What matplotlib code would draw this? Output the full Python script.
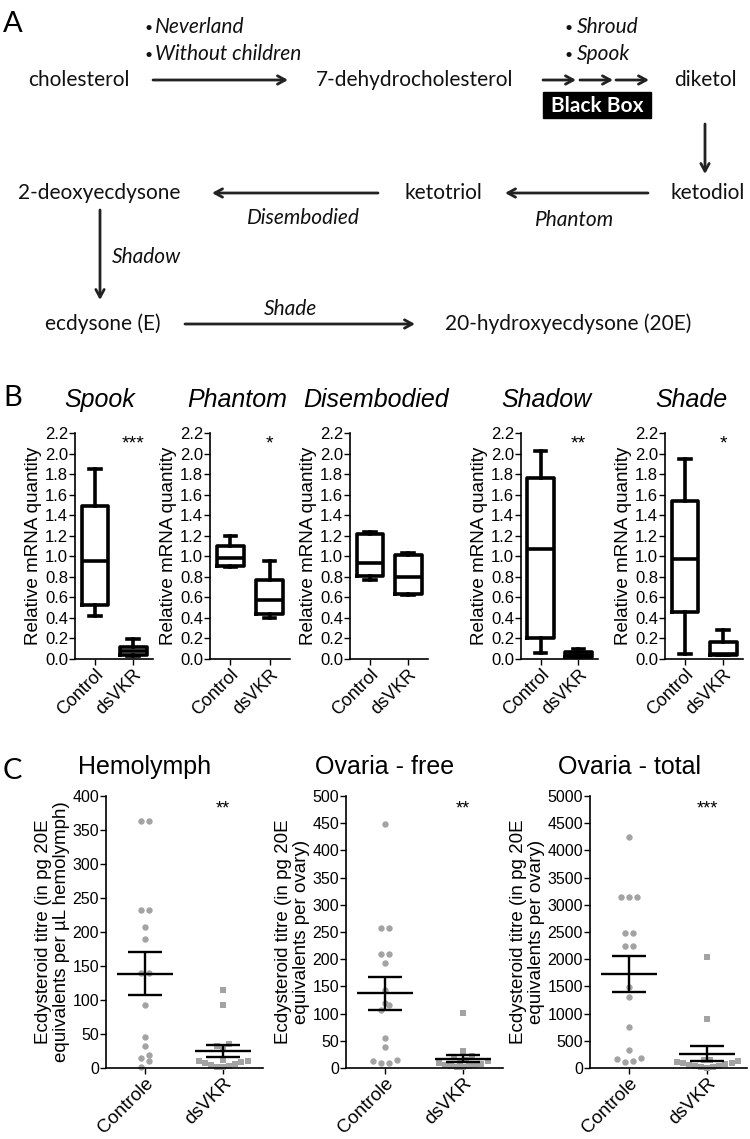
import matplotlib.pyplot as plt
import numpy as np
from matplotlib.patches import Rectangle

W, H = 750, 1139

# ---- panel A: pathway
metabolites = ['cholesterol', '7-dehydrocholesterol', 'diketol', 'ketodiol',
               'ketotriol', '2-deoxyecdysone', 'ecdysone (E)', '20-hydroxyecdysone (20E)']
enzymes_first = ['Neverland', 'Without children']
enzymes_box = ['Shroud', 'Spook']
enzymes_rest = ['Phantom', 'Disembodied', 'Shadow', 'Shade']

# ---- panel B: qPCR boxes (whislo, q1, med, q3, whishi)
genes = ['Spook', 'Phantom', 'Disembodied', 'Shadow', 'Shade']
groups_b = ['Control', 'dsVKR']
control_boxes = [
    [0.42, 0.53, 0.95, 1.49, 1.85],
    [0.90, 0.91, 0.98, 1.10, 1.20],
    [0.77, 0.81, 0.93, 1.22, 1.24],
    [0.06, 0.20, 1.07, 1.76, 2.02],
    [0.05, 0.46, 0.97, 1.54, 1.95],
]
dsvkr_boxes = [
    [0.03, 0.04, 0.08, 0.12, 0.19],
    [0.40, 0.44, 0.57, 0.77, 0.95],
    [0.62, 0.63, 0.80, 1.01, 1.03],
    [0.02, 0.02, 0.04, 0.065, 0.10],
    [0.04, 0.04, 0.05, 0.17, 0.28],
]
stars_b = ['***', '*', '', '**', '*']

# ---- panel C: ecdysteroid titres
groups_c = ['Controle', 'dsVKR']
tissues = ['Hemolymph', 'Ovaria - free', 'Ovaria - total']
hemo_ctrl = [363, 363, 233, 233, 208, 189, 139, 139, 93, 45, 32, 19, 15, 10, 2]
hemo_ds = [114, 93, 35, 33, 28, 12, 11, 10, 9, 8, 6, 4, 3, 2, 2]
free_ctrl = [448, 257, 257, 210, 210, 193, 144, 119, 116, 106, 56, 38, 14, 12, 9, 9]
free_ds = [101, 32, 22, 20, 15, 13, 12, 10, 8, 6, 5, 4, 3, 2, 1]
total_ctrl = [4248, 3148, 3148, 3148, 2488, 2488, 2243, 2243, 1498, 1314, 752, 324, 177, 171, 134, 110]
total_ds = [2040, 900, 150, 140, 120, 110, 100, 90, 80, 60, 40, 30, 20, 10, 5]
ymax_c = [400, 500, 5000]
ystep_c = [50, 50, 500]
stars_c = ['**', '**', '***']

fig = plt.figure(figsize=(W / 100, H / 100), dpi=100)

def px_axes(left, top, right, bottom):
    return fig.add_axes([left / W, 1 - bottom / H, (right - left) / W, (bottom - top) / H])

def ftext(x, y, s, **kw):
    fig.text(x / W, 1 - y / H, s, **kw)

# overlay for the diagram
ax0 = fig.add_axes([0, 0, 1, 1])
ax0.set_xlim(0, W)
ax0.set_ylim(H, 0)
ax0.axis('off')

fa = dict(family='Lato', fontsize=15, va='center', color='#111111')
fi = dict(family='Lato', fontsize=15, va='center', style='italic', color='#111111')
fb = dict(family='Lato', fontsize=10, va='center', color='#111111')
arrow = dict(arrowstyle='->,head_length=0.55,head_width=0.3', lw=2.0, color='#222222',
             shrinkA=0, shrinkB=0)

def arr(x0, y0, x1, y1):
    ax0.annotate('', xy=(x1, y1), xytext=(x0, y0), arrowprops=arrow)

ftext(3, 24, 'A', family='Lato', fontsize=21, va='center')
ftext(3, 398, 'B', family='Lato', fontsize=21, va='center')
ftext(3, 771, 'C', family='Lato', fontsize=21, va='center')

ax0.text(28, 80, metabolites[0], **fa)
ax0.text(316, 80, metabolites[1], **fa)
ax0.text(674, 80, metabolites[2], **fa)
ax0.text(745, 193, metabolites[3], ha='right', **fa)
ax0.text(405, 193, metabolites[4], **fa)
ax0.text(18, 193, metabolites[5], **fa)
ax0.text(45, 324, metabolites[6], **fa)
ax0.text(445, 324, metabolites[7], **fa)

for i, name in enumerate(enzymes_first):
    ax0.text(144, 28 + 27 * i, '\u2022', **fb)
    ax0.text(155, 27 + 27 * i, name, **fi)
for i, name in enumerate(enzymes_box):
    ax0.text(565, 28 + 27 * i, '\u2022', **fb)
    ax0.text(577, 27 + 27 * i, name, **fi)

arr(153, 80, 288, 80)
for xs in [543, 580, 616]:
    arr(xs, 80, xs + 33, 80)
ax0.add_patch(Rectangle((543, 92), 108, 26, color='black'))
ax0.text(597, 105.5, 'Black Box', ha='center', va='center', family='Lato',
         fontsize=15, weight='bold', color='white')
arr(705, 124, 705, 174)
arr(648, 193, 505, 193)
ax0.text(575, 220, enzymes_rest[0], ha='center', **fi)
arr(378, 193, 212, 193)
ax0.text(303, 218, enzymes_rest[1], ha='center', **fi)
arr(100, 210, 100, 300)
ax0.text(112, 257, enzymes_rest[2], **fi)
arr(185, 324, 415, 324)
ax0.text(290, 309, enzymes_rest[3], ha='center', **fi)

# ---- panel B
sans = 'Liberation Sans'
b_edges = [(75, 153), (210, 290), (350, 428), (521, 598), (665, 743)]
b_title_x = [100, 237, 376, 546, 691]

def style_axes(ax, xsize, ysize, lw=1.2):
    for s in ['top', 'right']:
        ax.spines[s].set_visible(False)
    for s in ['left', 'bottom']:
        ax.spines[s].set_linewidth(lw)
    ax.tick_params(width=1.0, length=4, pad=1)
    ax.tick_params(axis='x', labelsize=xsize)
    ax.tick_params(axis='y', labelsize=ysize)
    for lab in ax.get_xticklabels() + ax.get_yticklabels():
        lab.set_family(sans)

for i, gene in enumerate(genes):
    left, right = b_edges[i]
    ax = px_axes(left, 433, right, 659)
    stats = []
    for box in [control_boxes[i], dsvkr_boxes[i]]:
        stats.append(dict(whislo=box[0], q1=box[1], med=box[2], q3=box[3],
                          whishi=box[4], fliers=[]))
    lp = dict(lw=2.6, color='black')
    ax.bxp(stats, positions=[1, 2], widths=0.7, capwidths=0.3, showfliers=False,
           boxprops=lp, whiskerprops=lp, capprops=lp, medianprops=lp)
    ax.set_xlim(0.48, 2.52)
    ax.set_ylim(0, 2.2)
    ax.set_yticks(np.arange(0, 2.21, 0.2))
    ax.set_yticklabels(['%.1f' % v for v in np.arange(0, 2.21, 0.2)])
    ax.set_xticks([1, 2])
    ax.set_xticklabels(groups_b, rotation=45, ha='right', rotation_mode='anchor')
    ax.set_ylabel('Relative mRNA quantity', family=sans, fontsize=13.6, labelpad=2)
    style_axes(ax, 13, 12)
    if stars_b[i]:
        ax.text(2, 2.05, stars_b[i], ha='center', va='baseline', family=sans, fontsize=14)
    ftext(b_title_x[i], 400, gene, ha='center', va='center', family=sans,
          fontsize=18, style='italic')

# ---- panel C
def spread(values, thresh, step):
    vals = np.asarray(values, dtype=float)
    order = np.argsort(vals)
    offs = np.zeros(len(vals))
    group = [order[0]]
    groups = []
    for k in order[1:]:
        if vals[k] - vals[group[0]] < thresh:
            group.append(k)
        else:
            groups.append(group)
            group = [k]
    groups.append(group)
    for g in groups:
        n = len(g)
        slots = (np.arange(n) - (n - 1) / 2) * step
        slots = slots[np.argsort(np.abs(slots), kind='stable')]
        for k, s in zip(g, slots):
            offs[k] = s
    return offs

c_edges = [(106, 263), (346, 503), (590, 747)]
c_title_x = [145, 385, 629]
c_ylabels = ['Ecdysteroid titre (in pg 20E\nequivalents per \u00b5L hemolymph)',
             'Ecdysteroid titre (in pg 20E\nequivalents per ovary)',
             'Ecdysteroid titre (in pg 20E\nequivalents per ovary)']
c_data = [(hemo_ctrl, hemo_ds), (free_ctrl, free_ds), (total_ctrl, total_ds)]
gray = '#a3a3a3'

for i, tissue in enumerate(tissues):
    left, right = c_edges[i]
    ax = px_axes(left, 796, right, 1068)
    thresh = ymax_c[i] * 6.5 / 272
    for j, (vals, mk) in enumerate(zip(c_data[i], ['o', 's'])):
        vals = np.asarray(vals, dtype=float)
        x = j + spread(vals, thresh, 0.105 if j == 0 else 0.078)
        ax.plot(x, vals, mk, color=gray, ms=4.6, mew=0, zorder=2, clip_on=False)
        mean = vals.mean()
        sem = vals.std(ddof=1) / np.sqrt(len(vals))
        ax.hlines(mean, j - 0.36, j + 0.36, color='black', lw=1.7, zorder=3)
        ax.errorbar(j, mean, yerr=sem, color='black', lw=1.7, capsize=12.5,
                    capthick=1.7, zorder=3)
    ax.set_xlim(-0.5, 1.51)
    ax.set_ylim(0, ymax_c[i])
    ax.set_yticks(np.arange(0, ymax_c[i] + 1, ystep_c[i]))
    ax.set_xticks([0, 1])
    ax.set_xticklabels(groups_c, rotation=45, ha='right', rotation_mode='anchor')
    ax.set_ylabel(c_ylabels[i], family=sans, fontsize=13.5, labelpad=2, linespacing=1.05)
    style_axes(ax, 13.5, 11.5)
    ax.text(1, ymax_c[i] * 0.9375, stars_c[i], ha='center', va='baseline', family=sans,
            fontsize=13)
    ftext(c_title_x[i], 767, tissue, ha='center', va='center', family=sans, fontsize=18)

fig.savefig('out.png', dpi=100)
